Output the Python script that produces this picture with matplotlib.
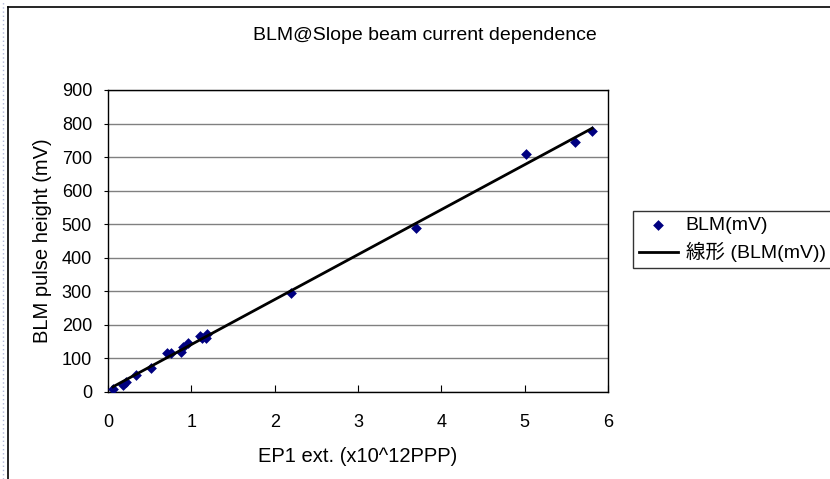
import matplotlib
matplotlib.use('Agg')
import matplotlib.pyplot as plt
from matplotlib.lines import Line2D
import numpy as np

plt.rcParams['font.family'] = ['Liberation Sans', 'Noto Sans CJK JP', 'DejaVu Sans']

# beam intensity (x10^12 ppp) vs BLM pulse height (mV)
ep1_ext = [0.06, 0.18, 0.22, 0.34, 0.52, 0.71, 0.75, 0.87, 0.90, 0.96,
           1.10, 1.13, 1.18, 1.19, 2.20, 3.69, 5.01, 5.60, 5.81]
blm_mv = [10, 20, 30, 50, 72, 115, 116, 119, 135, 146,
          167, 160, 160, 172, 294, 488, 710, 745, 778]

title = 'BLM@Slope beam current dependence'
xlabel = 'EP1 ext. (x10^12PPP)'
ylabel = 'BLM pulse height (mV)'
series_label = 'BLM(mV)'
trend_label = '線形 (BLM(mV))'

fig = plt.figure(figsize=(8.3, 4.79), dpi=100)

# chart frame, clipped by the page on the right and bottom
top = 1 - 7 / 479
left = 8 / 830
fig.add_artist(Line2D([left, 1.0], [top, top], transform=fig.transFigure,
                      color='black', lw=1.2))
fig.add_artist(Line2D([left, left], [0, top], transform=fig.transFigure,
                      color='black', lw=1.2))
# dotted page edge on the far left
fig.add_artist(Line2D([3 / 830, 3 / 830], [0, 1], transform=fig.transFigure,
                      color='#b0b8d8', lw=1.0, ls=(0, (1, 2))))

ax = fig.add_axes([108 / 830, 1 - 392 / 479, 500 / 830, 302 / 479])

x = np.array(ep1_ext)
y = np.array(blm_mv)
slope, icpt = np.polyfit(x, y, 1)
xf = np.array([x.min(), x.max()])

ax.scatter(x, y, marker='D', s=30, color='#000080', lw=0, zorder=3,
           label=series_label)
ax.plot(xf, slope * xf + icpt, color='black', lw=2.0, zorder=4, label=trend_label)

ax.set_xlim(0, 6)
ax.set_ylim(0, 900)
ax.set_xticks(range(0, 7))
ax.set_yticks(range(0, 1000, 100))
ax.yaxis.grid(True, color='#808080', lw=1.0)
ax.set_axisbelow(True)
for s in ax.spines.values():
    s.set_color('black')
    s.set_linewidth(1.0)
ax.tick_params(axis='x', direction='in', length=5, labelsize=13, pad=16)
ax.tick_params(axis='y', direction='out', length=3, labelsize=13, pad=8.5)

ax.set_xlabel(xlabel, fontsize=14.5, labelpad=11)
ax.set_ylabel(ylabel, fontsize=14.5, labelpad=7)
fig.text(425 / 830, 1 - 36 / 479, title, ha='center', va='center', fontsize=14)

handles, labels = ax.get_legend_handles_labels()
leg = fig.legend(handles, labels, loc='upper left',
                 bbox_to_anchor=(633 / 830, 1 - 211 / 479),
                 fontsize=14, frameon=True, fancybox=False, edgecolor='black',
                 borderpad=0.3, handlelength=2.0, labelspacing=0.4,
                 handletextpad=0.4, borderaxespad=0)
leg.get_frame().set_linewidth(1.0)

fig.savefig('out.png', dpi=100)
